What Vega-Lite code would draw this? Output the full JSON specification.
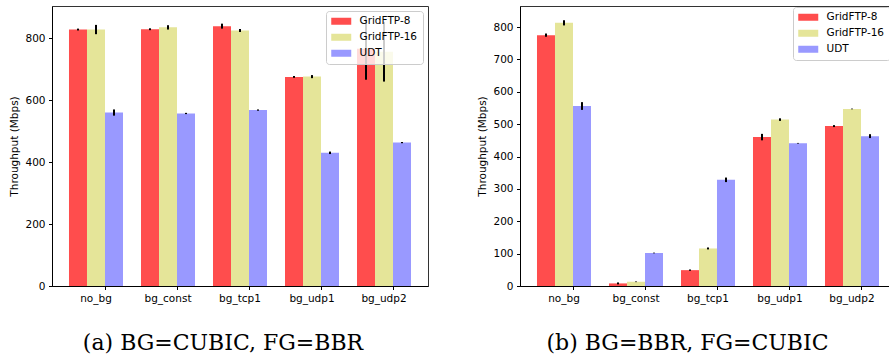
{
  "$schema": "https://vega.github.io/schema/vega-lite/v6.json",
  "padding": {"left": 9, "top": 5, "right": 0, "bottom": 0},
  "background": "white",
  "spacing": 48,
  "datasets": {
    "a": [
      {"bg": "no_bg", "series": "GridFTP-8", "value": 828, "lo": 825, "hi": 831},
      {"bg": "no_bg", "series": "GridFTP-16", "value": 828, "lo": 813, "hi": 843},
      {"bg": "no_bg", "series": "UDT", "value": 560, "lo": 550, "hi": 570},
      {"bg": "bg_const", "series": "GridFTP-8", "value": 829, "lo": 826, "hi": 832},
      {"bg": "bg_const", "series": "GridFTP-16", "value": 835, "lo": 828, "hi": 842},
      {"bg": "bg_const", "series": "UDT", "value": 557, "lo": 555, "hi": 559},
      {"bg": "bg_tcp1", "series": "GridFTP-8", "value": 839, "lo": 831, "hi": 847},
      {"bg": "bg_tcp1", "series": "GridFTP-16", "value": 825, "lo": 820, "hi": 830},
      {"bg": "bg_tcp1", "series": "UDT", "value": 568, "lo": 566, "hi": 570},
      {"bg": "bg_udp1", "series": "GridFTP-8", "value": 675, "lo": 672, "hi": 678},
      {"bg": "bg_udp1", "series": "GridFTP-16", "value": 676, "lo": 671, "hi": 681},
      {"bg": "bg_udp1", "series": "UDT", "value": 430, "lo": 426, "hi": 434},
      {"bg": "bg_udp2", "series": "GridFTP-8", "value": 766, "lo": 666, "hi": 866},
      {"bg": "bg_udp2", "series": "GridFTP-16", "value": 756, "lo": 660, "hi": 852},
      {"bg": "bg_udp2", "series": "UDT", "value": 463, "lo": 461, "hi": 465}
    ],
    "b": [
      {"bg": "no_bg", "series": "GridFTP-8", "value": 775, "lo": 770, "hi": 780},
      {"bg": "no_bg", "series": "GridFTP-16", "value": 813, "lo": 805, "hi": 821},
      {"bg": "no_bg", "series": "UDT", "value": 556, "lo": 544, "hi": 568},
      {"bg": "bg_const", "series": "GridFTP-8", "value": 8, "lo": 5, "hi": 11},
      {"bg": "bg_const", "series": "GridFTP-16", "value": 13, "lo": 12, "hi": 14},
      {"bg": "bg_const", "series": "UDT", "value": 102, "lo": 101, "hi": 103},
      {"bg": "bg_tcp1", "series": "GridFTP-8", "value": 49, "lo": 47, "hi": 51},
      {"bg": "bg_tcp1", "series": "GridFTP-16", "value": 116, "lo": 113, "hi": 119},
      {"bg": "bg_tcp1", "series": "UDT", "value": 328, "lo": 321, "hi": 335},
      {"bg": "bg_udp1", "series": "GridFTP-8", "value": 460, "lo": 450, "hi": 470},
      {"bg": "bg_udp1", "series": "GridFTP-16", "value": 514, "lo": 510, "hi": 518},
      {"bg": "bg_udp1", "series": "UDT", "value": 441, "lo": 440, "hi": 442},
      {"bg": "bg_udp2", "series": "GridFTP-8", "value": 494, "lo": 491, "hi": 497},
      {"bg": "bg_udp2", "series": "GridFTP-16", "value": 547, "lo": 546, "hi": 548},
      {"bg": "bg_udp2", "series": "UDT", "value": 463, "lo": 457, "hi": 469}
    ]
  },
  "resolve": {
    "scale": {"color": "independent", "y": "independent", "x": "independent"},
    "legend": {"color": "independent"}
  },
  "config": {
    "view": {"stroke": "#333333", "strokeWidth": 1},
    "axis": {
      "labelFont": "DejaVu Sans", "labelFontSize": 10.5, "labelColor": "#000000",
      "tickColor": "#000000", "domainColor": "#000000", "tickSize": 3.5, "labelPadding": 3.5,
      "grid": false, "titleFont": "DejaVu Sans", "titleFontSize": 10.5,
      "titleFontWeight": "normal", "titleColor": "#000000"
    },
    "legend": {
      "orient": "top-right", "offset": 5, "fillColor": "rgba(255,255,255,0.8)",
      "strokeColor": "#cccccc", "cornerRadius": 3, "padding": 5,
      "symbolType": "M-2,-0.7H2V0.7H-2Z", "symbolSize": 100, "symbolStrokeWidth": 0,
      "symbolOffset": 5, "symbolOpacity": 1, "labelFont": "DejaVu Sans", "labelFontSize": 10.5,
      "labelColor": "#000000", "labelOffset": 13, "rowPadding": 5
    },
    "title": {"font": "DejaVu Serif", "fontSize": 22, "fontWeight": "normal", "color": "#000000"}
  },
  "hconcat": [
    {
      "width": 376, "height": 280,
      "title": {"text": "(a) BG=CUBIC, FG=BBR", "orient": "bottom", "anchor": "middle", "dx": -17, "offset": 29},
      "data": {"name": "a"},
      "encoding": {
        "x": {"field": "bg", "type": "nominal", "sort": ["no_bg", "bg_const", "bg_tcp1", "bg_udp1", "bg_udp2"],
              "scale": {"paddingInner": 0.25, "paddingOuter": 0.236},
              "axis": {"title": null, "labelAngle": 0, "bandPosition": 0.667}},
        "xOffset": {"field": "series", "type": "nominal", "sort": ["GridFTP-8", "GridFTP-16", "UDT"],
                    "scale": {"paddingInner": 0, "paddingOuter": 0}}
      },
      "layer": [
        {
          "mark": {"type": "bar"},
          "encoding": {
            "y": {"field": "value", "type": "quantitative", "scale": {"domain": [0, 904], "nice": false},
                  "axis": {"title": "Throughput (Mbps)", "values": [0, 200, 400, 600, 800], "titlePadding": 5}},
            "color": {"field": "series", "type": "nominal", "sort": ["GridFTP-8", "GridFTP-16", "UDT"],
                      "scale": {"domain": ["GridFTP-8", "GridFTP-16", "UDT"], "range": ["#ff4d4d", "#e5e599", "#9999ff"]},
                      "legend": {"title": null}}
          }
        },
        {
          "mark": {"type": "rule", "color": "#000000", "strokeWidth": 2},
          "encoding": {
            "y": {"field": "lo", "type": "quantitative", "scale": {"domain": [0, 904], "nice": false},
                  "axis": {"title": "Throughput (Mbps)", "values": [0, 200, 400, 600, 800], "titlePadding": 5}},
            "y2": {"field": "hi"}
          }
        }
      ]
    },
    {
      "width": 371, "height": 280,
      "title": {"text": "(b) BG=BBR, FG=CUBIC", "orient": "bottom", "anchor": "middle", "dx": -18, "offset": 29},
      "data": {"name": "b"},
      "encoding": {
        "x": {"field": "bg", "type": "nominal", "sort": ["no_bg", "bg_const", "bg_tcp1", "bg_udp1", "bg_udp2"],
              "scale": {"paddingInner": 0.25, "paddingOuter": 0.2014, "align": 0.586},
              "axis": {"title": null, "labelAngle": 0, "bandPosition": 0.667}},
        "xOffset": {"field": "series", "type": "nominal", "sort": ["GridFTP-8", "GridFTP-16", "UDT"],
                    "scale": {"paddingInner": 0, "paddingOuter": 0}}
      },
      "layer": [
        {
          "mark": {"type": "bar"},
          "encoding": {
            "y": {"field": "value", "type": "quantitative", "scale": {"domain": [0, 865], "nice": false},
                  "axis": {"title": "Throughput (Mbps)", "values": [0, 100, 200, 300, 400, 500, 600, 700, 800], "titlePadding": 5}},
            "color": {"field": "series", "type": "nominal", "sort": ["GridFTP-8", "GridFTP-16", "UDT"],
                      "scale": {"domain": ["GridFTP-8", "GridFTP-16", "UDT"], "range": ["#ff4d4d", "#e5e599", "#9999ff"]},
                      "legend": {"title": null, "offset": 1}}
          }
        },
        {
          "mark": {"type": "rule", "color": "#000000", "strokeWidth": 2},
          "encoding": {
            "y": {"field": "lo", "type": "quantitative", "scale": {"domain": [0, 865], "nice": false},
                  "axis": {"title": "Throughput (Mbps)", "values": [0, 100, 200, 300, 400, 500, 600, 700, 800], "titlePadding": 5}},
            "y2": {"field": "hi"}
          }
        }
      ]
    }
  ]
}
